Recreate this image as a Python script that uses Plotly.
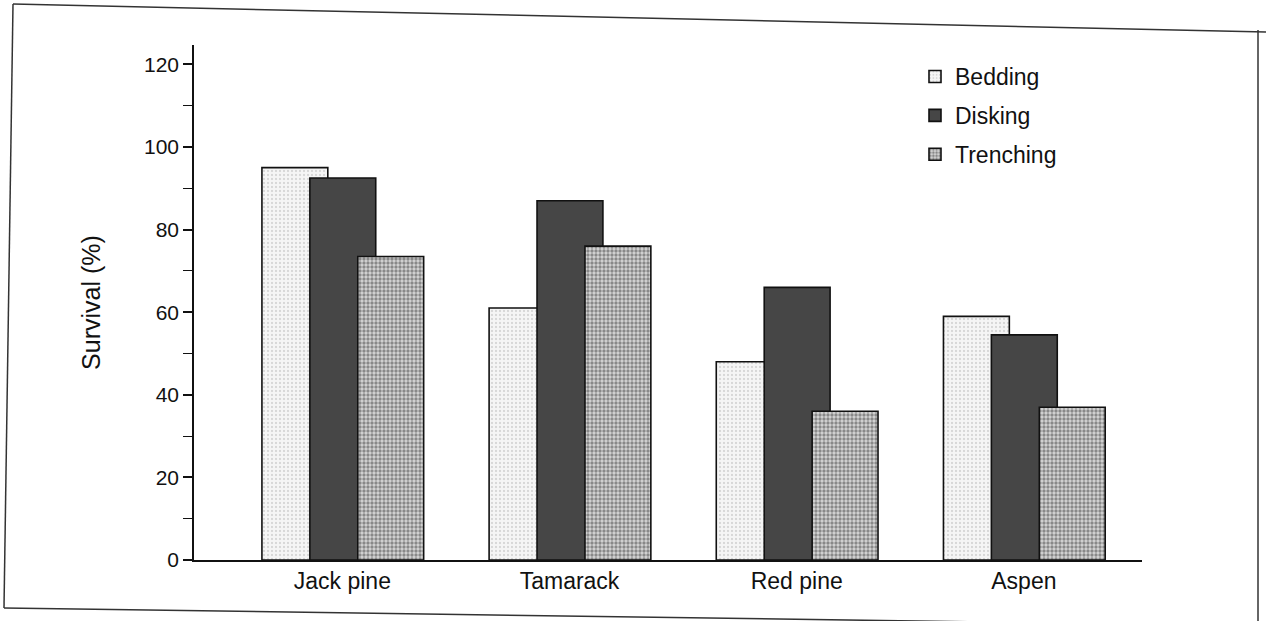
import plotly.graph_objects as go

# ---- data ----
species = ["Jack pine", "Tamarack", "Red pine", "Aspen"]
bedding = [95, 61, 48, 59]
disking = [92.5, 87, 66, 54.5]
trenching = [73.5, 76, 36, 37]
y_ticks = [0, 20, 40, 60, 80, 100, 120]

W, H = 1266, 621
L, R, T, B = 194, 124, 45, 61
PW, PH = W - L - R, H - T - B


def px(x):
    return (x - L) / PW


def py(y):
    return (H - B - y) / PH


FONT = "Liberation Sans, Arial, Helvetica, sans-serif"
bar_w = 0.29
offsets = [-0.354, -0.143, 0.068]
styles = [
    dict(color="#f3f3f3", pattern=dict(shape=".", fgcolor="#b8b8b8", bgcolor="#f5f5f5", size=4, solidity=0.25)),
    dict(color="#464646"),
    dict(color="#8a8a8a", pattern=dict(shape=".", fgcolor="#3a3a3a", bgcolor="#d6d6d6", size=4, solidity=0.55)),
]
names = ["Bedding", "Disking", "Trenching"]
series = [bedding, disking, trenching]

fig = go.Figure()
for i, (nm, vals) in enumerate(zip(names, series)):
    mk = dict(styles[i])
    mk["line"] = dict(color="#111111", width=1.6)
    fig.add_trace(go.Bar(
        x=species, y=vals, name=nm, width=bar_w, offset=offsets[i],
        marker=mk, legendgroup=nm,
    ))

lines = [
    ((13, 4), (1266, 32)),
    ((13, 4), (4, 608)),
    ((4, 608), (1266, 626)),
    ((1258, 30), (1258, 621)),
]
shapes = []
for (x0, y0), (x1, y1) in lines:
    shapes.append(dict(type="line", xref="paper", yref="paper",
                       x0=px(x0), y0=py(y0), x1=px(x1), y1=py(y1),
                       line=dict(color="#333333", width=1.5)))

fig.update_layout(
    width=W, height=H,
    margin=dict(l=L, r=R, t=T, b=B),
    paper_bgcolor="white", plot_bgcolor="white",
    barmode="overlay",
    font=dict(family=FONT, color="#111111"),
    showlegend=True,
    legend=dict(x=px(915), y=py(55), xanchor="left", yanchor="top",
                font=dict(size=23, family=FONT), tracegroupgap=6,
                bgcolor="rgba(0,0,0,0)"),
    xaxis=dict(range=[-0.653, 3.52], showline=True, linecolor="#111111", linewidth=1.5,
               ticks="", tickfont=dict(size=23), showgrid=False, zeroline=False),
    yaxis=dict(range=[0, PH / 4.13], showline=True, linecolor="#111111", linewidth=1.5,
               tickvals=y_ticks, ticks="outside", ticklen=9, tickwidth=1.5, tickcolor="#111111",
               ticklabelstandoff=0,
               minor=dict(dtick=10, tick0=0, ticks="outside", ticklen=9, tickwidth=1.2, tickcolor="#111111"),
               tickfont=dict(size=21), showgrid=False, zeroline=False,
               title=dict(text="Survival (%)", font=dict(size=25), standoff=36)),
    shapes=shapes,
)

fig.write_html("out.html", config={"displayModeBar": False},
               post_script="document.body.style.margin='0';document.body.style.overflow='hidden';")
